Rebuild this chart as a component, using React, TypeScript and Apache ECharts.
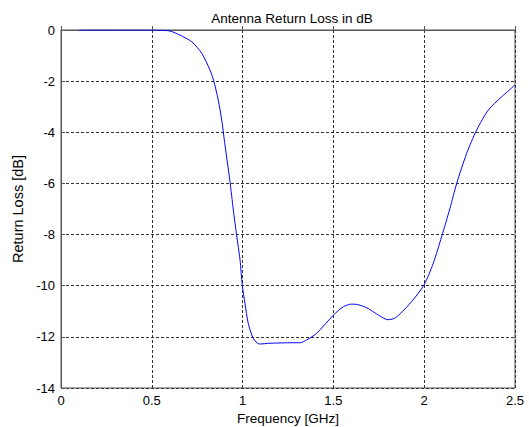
import React, { useEffect, useRef } from "react";
import * as echarts from "echarts";

const freqGHz = [0.1, 0.3, 0.5, 0.55, 0.6, 0.655, 0.72, 0.775, 0.82, 0.84, 0.866, 0.885, 0.903, 0.93, 0.949, 0.967, 0.986, 0.998, 1.013, 1.031, 1.059, 1.092, 1.151, 1.2, 1.261, 1.316, 1.353, 1.408, 1.5, 1.555, 1.6, 1.635, 1.683, 1.72, 1.757, 1.8, 1.835, 1.867, 1.931, 1.999, 2.05, 2.096, 2.142, 2.179, 2.234, 2.289, 2.353, 2.427, 2.5];
const returnLossDb = [0, 0, 0, -0.01, -0.04, -0.2, -0.46, -0.91, -1.56, -1.96, -2.74, -3.52, -4.5, -5.9, -7.04, -8.02, -9.0, -9.97, -10.69, -11.47, -12.06, -12.28, -12.25, -12.24, -12.23, -12.23, -12.12, -11.86, -11.15, -10.82, -10.72, -10.74, -10.86, -11.02, -11.19, -11.33, -11.28, -11.1, -10.62, -9.97, -9.12, -8.08, -6.97, -6.0, -4.82, -3.91, -3.13, -2.61, -2.15];

const xTicks = [0, 0.5, 1, 1.5, 2, 2.5];
const yTicks = [0, -2, -4, -6, -8, -10, -12, -14];

export default function App() {
  const ref = useRef<HTMLDivElement>(null);
  useEffect(() => {
    if (!ref.current) return;
    const chart = echarts.init(ref.current, null, { renderer: "svg" });
    const font = "Liberation Sans, Arial, sans-serif";
    chart.setOption({
      animation: false,
      backgroundColor: "#ffffff",
      title: {
        text: "Antenna Return Loss in dB",
        left: 287,
        top: 6,
        textAlign: "center",
        textStyle: { fontSize: 13.5, fontWeight: "normal", color: "#000", fontFamily: font },
      },
      grid: {
        left: 61,
        top: 30,
        width: 454,
        height: 358,
        show: true,
        borderColor: "#555",
        borderWidth: 1,
        containLabel: false,
        outerBoundsMode: "none",
      },
      xAxis: {
        type: "value",
        min: xTicks[0],
        max: xTicks[xTicks.length - 1],
        interval: 0.5,
        name: "Frequency [GHz]",
        nameLocation: "middle",
        nameGap: 22,
        nameTextStyle: { fontSize: 13.5, color: "#000", fontFamily: font },
        axisLine: { show: true, lineStyle: { color: "#555" } },
        axisTick: { show: true, inside: true, length: 4, lineStyle: { color: "#555" } },
        axisLabel: { fontSize: 13, color: "#000", fontFamily: font, margin: 6, formatter: (v: number) => String(v) },
        splitLine: { show: true, lineStyle: { color: "#333", type: [3, 2], width: 1 } },
      },
      yAxis: {
        type: "value",
        min: yTicks[yTicks.length - 1],
        max: yTicks[0],
        interval: 2,
        name: "Return Loss [dB]",
        nameLocation: "middle",
        nameGap: 32,
        nameTextStyle: { fontSize: 14.5, color: "#000", fontFamily: font },
        axisLine: { show: true, lineStyle: { color: "#555" } },
        axisTick: { show: true, inside: true, length: 4, lineStyle: { color: "#555" } },
        axisLabel: { fontSize: 13, color: "#000", fontFamily: font, margin: 6 },
        splitLine: { show: true, lineStyle: { color: "#333", type: [3, 2], width: 1 } },
      },
      series: [
        {
          type: "line",
          data: freqGHz.map((f, i) => [f, returnLossDb[i]]),
          showSymbol: false,
          smooth: 0.25,
          lineStyle: { color: "#0000ff", width: 1 },
          itemStyle: { color: "#0000ff" },
        },
      ],
    });
    return () => chart.dispose();
  }, []);
  return (
    <div
      ref={ref}
      style={{ position: "fixed", left: 0, top: 0, width: 529, height: 427 }}
    />
  );
}
